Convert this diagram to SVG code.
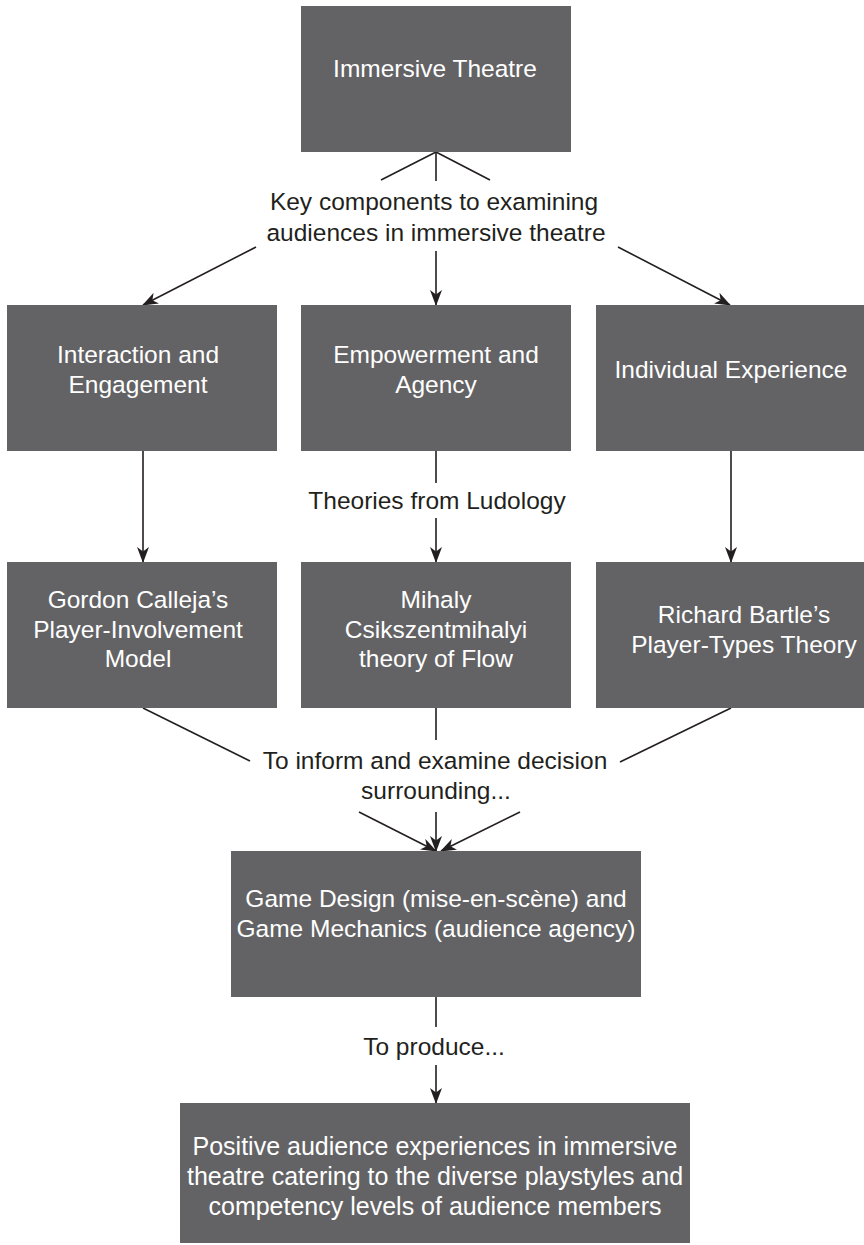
<svg xmlns="http://www.w3.org/2000/svg" width="864" height="1245" viewBox="0 0 864 1245">
<defs>
<style>
.box{fill:#636365;}
.bt{font-family:"Liberation Sans",Arial,sans-serif;font-size:24.5px;fill:#ffffff;text-anchor:middle;}
.lt{font-family:"Liberation Sans",Arial,sans-serif;font-size:24.5px;fill:#231f20;text-anchor:middle;}
.c{stroke:#231f20;stroke-width:1.6;fill:none;}
.a{marker-end:url(#arr);}
</style>
<marker id="arr" viewBox="0 0 16 12" markerWidth="16" markerHeight="12" refX="15" refY="6" orient="auto" markerUnits="userSpaceOnUse">
<path d="M0,0 L16,6 L0,12 L4.5,6 z" fill="#231f20"/>
</marker>
</defs>
<rect width="864" height="1245" fill="#ffffff"/>

<g id="connectors">
<line class="c" x1="436" y1="152" x2="381" y2="180"/>
<line class="c" x1="436" y1="152" x2="436" y2="181"/>
<line class="c" x1="436" y1="152" x2="490" y2="180"/>
<line class="c a" x1="256" y1="247" x2="143" y2="305"/>
<line class="c a" x1="436" y1="251" x2="436" y2="305"/>
<line class="c a" x1="618" y1="247" x2="730" y2="305"/>
<line class="c a" x1="143" y1="451" x2="143" y2="562"/>
<line class="c" x1="436" y1="451" x2="436" y2="483"/>
<line class="c a" x1="436" y1="518" x2="436" y2="562"/>
<line class="c a" x1="731" y1="451" x2="731" y2="562"/>
<line class="c" x1="143" y1="708" x2="250" y2="761"/>
<line class="c" x1="436" y1="708" x2="436" y2="740"/>
<line class="c" x1="731" y1="708" x2="620" y2="762"/>
<line class="c a" x1="359" y1="812" x2="436" y2="851"/>
<line class="c a" x1="436" y1="812" x2="436" y2="851"/>
<line class="c a" x1="520" y1="812" x2="441" y2="851"/>
<line class="c" x1="436" y1="997" x2="436" y2="1027"/>
<line class="c a" x1="436" y1="1065" x2="436" y2="1103"/>
<text class="lt" x="434" y="210">Key components to examining</text>
<text class="lt" x="436" y="241">audiences in immersive theatre</text>
<text class="lt" x="437" y="509">Theories from Ludology</text>
<text class="lt" x="435" y="769">To inform and examine decision</text>
<text class="lt" x="436" y="799">surrounding...</text>
<text class="lt" x="434" y="1055">To produce...</text>
</g>

<g id="immersive-theatre">
<rect class="box" x="301" y="6" width="270" height="146"/>
<text class="bt" x="435" y="77">Immersive Theatre</text>
</g>

<g id="interaction-engagement">
<rect class="box" x="7" y="305" width="270" height="146"/>
<text class="bt" x="138" y="363">Interaction and</text>
<text class="bt" x="138" y="393">Engagement</text>
</g>

<g id="empowerment-agency">
<rect class="box" x="301" y="305" width="270" height="146"/>
<text class="bt" x="436" y="363">Empowerment and</text>
<text class="bt" x="436" y="393">Agency</text>
</g>

<g id="individual-experience">
<rect class="box" x="596" y="305" width="270" height="146"/>
<text class="bt" x="731" y="378">Individual Experience</text>
</g>

<g id="calleja">
<rect class="box" x="7" y="562" width="270" height="146"/>
<text class="bt" x="138" y="608">Gordon Calleja’s</text>
<text class="bt" x="138" y="638">Player-Involvement</text>
<text class="bt" x="138" y="667">Model</text>
</g>

<g id="csikszentmihalyi">
<rect class="box" x="301" y="562" width="270" height="146"/>
<text class="bt" x="436" y="608">Mihaly</text>
<text class="bt" x="436" y="638">Csikszentmihalyi</text>
<text class="bt" x="436" y="667">theory of Flow</text>
</g>

<g id="bartle">
<rect class="box" x="596" y="562" width="270" height="146"/>
<text class="bt" x="744" y="623">Richard Bartle’s</text>
<text class="bt" x="744" y="653">Player-Types Theory</text>
</g>

<g id="game-design">
<rect class="box" x="231" y="851" width="410" height="146"/>
<text class="bt" x="436" y="907">Game Design (mise-en-scène) and</text>
<text class="bt" x="436" y="937">Game Mechanics (audience agency)</text>
</g>

<g id="positive-experiences">
<rect class="box" x="180" y="1103" width="510" height="140"/>
<text class="bt" x="435" y="1155" style="font-size:25px">Positive audience experiences in immersive</text>
<text class="bt" x="435" y="1185" style="font-size:25px">theatre catering to the diverse playstyles and</text>
<text class="bt" x="435" y="1215" style="font-size:25px">competency levels of audience members</text>
</g>
</svg>
